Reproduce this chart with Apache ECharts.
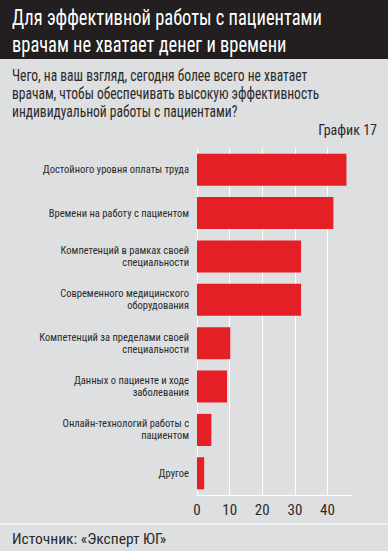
<!DOCTYPE html>
<html><head><meta charset="utf-8">
<script src="https://cdn.jsdelivr.net/npm/echarts@6/dist/echarts.min.js"></script>
<style>html,body{margin:0;padding:0;background:#dedfe0;}#c{width:388px;height:551px;}</style>
</head><body><div id="c"></div>
<script>
const titleLines = ['Для эффективной работы с пациентами', 'врачам не хватает денег и времени'];
const subtitleLines = ['Чего, на ваш взгляд, сегодня более всего не хватает', 'врачам, чтобы обеспечивать высокую эффективность', 'индивидуальной работы с пациентами?'];
const chartNo = 'График 17';
const source = 'Источник: «Эксперт ЮГ»';
const categories = [
  'Достойного уровня оплаты труда',
  'Времени на работу с пациентом',
  'Компетенций в рамках своей\nспециальности',
  'Современного медицинского\nоборудования',
  'Компетенций за пределами своей\nспециальности',
  'Данных о пациенте и ходе\nзаболевания',
  'Онлайн-технологий работы с\nпациентом',
  'Другое'
];
const values = [45.8, 41.8, 31.9, 31.9, 10.2, 9.2, 4.4, 2.2];
const gridValues = [0, 10, 20, 30, 40];

const FONT = '"Roboto Condensed", "Liberation Sans Narrow", sans-serif';
const chart = echarts.init(document.getElementById('c'), null, {renderer: 'svg'});
chart.setOption({
  backgroundColor: '#dedfe0',
  animation: false,
  graphic: [
    {type: 'rect', shape: {x: 0, y: 0, width: 388, height: 59}, style: {fill: '#231f20'}, z: 0},
    {type: 'text', x: 12, y: 4, scaleX: 0.84, style: {text: titleLines.join('\n'), fill: '#ffffff', font: '22px ' + FONT, lineHeight: 27}},
    {type: 'text', x: 12, y: 67, scaleX: 0.845, style: {text: subtitleLines.join('\n'), fill: '#2a2a2a', font: '16px ' + FONT, lineHeight: 18}},
    {type: 'text', right: 11, top: 123, style: {text: chartNo, fill: '#2a2a2a', font: '14px ' + FONT}},
    {type: 'rect', shape: {x: 0, y: 523.5, width: 388, height: 1}, style: {fill: '#ffffff'}},
    {type: 'text', left: 12, top: 531, style: {text: source, fill: '#2a2a2a', font: '15.5px ' + FONT}}
  ],
  grid: {left: 197, right: 36, top: 148, bottom: 56, containLabel: false},
  xAxis: {
    type: 'value', min: 0, max: 47.5, interval: 10,
    axisLine: {show: true, lineStyle: {color: '#ffffff', width: 1}},
    axisTick: {show: false},
    splitLine: {show: false},
    axisLabel: {
      color: '#2a2a2a', fontSize: 15, fontFamily: FONT, margin: 7,
      showMaxLabel: false,
      formatter: v => (v % 10 === 0 ? String(v) : '')
    }
  },
  yAxis: {
    type: 'category', data: categories, inverse: true,
    axisLine: {show: false}, axisTick: {show: false},
    axisLabel: {color: '#2a2a2a', fontSize: 10.5, fontFamily: FONT, lineHeight: 12, margin: 8, align: 'right'}
  },
  series: [{
    type: 'bar', data: values, barCategoryGap: '26%', z: 10,
    itemStyle: {color: '#e41f26'},
    markLine: {
      silent: true, symbol: 'none', z: 1, animation: false,
      label: {show: false},
      lineStyle: {color: '#ffffff', width: 1, type: 'solid'},
      data: gridValues.map(v => ({xAxis: v}))
    }
  }]
});
</script></body></html>
